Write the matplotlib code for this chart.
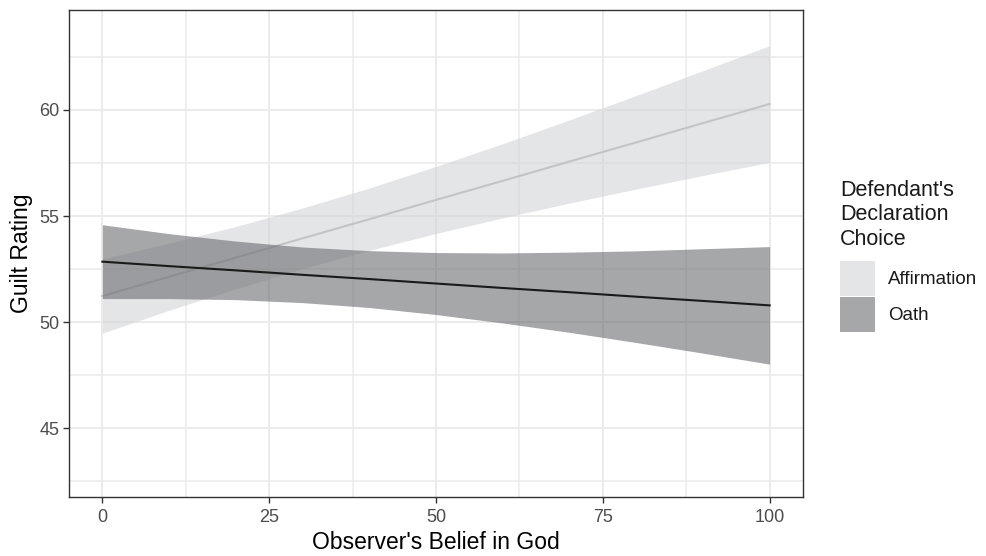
import matplotlib
matplotlib.use("Agg")
import matplotlib.pyplot as plt
from matplotlib.patches import Rectangle

# ---- data ----
belief = [0, 10, 20, 30, 40, 50, 60, 70, 80, 90, 100]

affirmation_fit = [51.23, 52.14, 53.04, 53.95, 54.85, 55.76, 56.66, 57.57, 58.47, 59.38, 60.28]
affirmation_lo = [49.48, 50.56, 51.57, 52.52, 53.38, 54.18, 54.91, 55.61, 56.27, 56.91, 57.53]
affirmation_hi = [52.98, 53.72, 54.51, 55.38, 56.32, 57.34, 58.41, 59.53, 60.68, 61.85, 63.03]

oath_fit = [52.85, 52.64, 52.44, 52.23, 52.03, 51.82, 51.61, 51.41, 51.20, 51.00, 50.79]
oath_lo = [51.11, 51.11, 51.06, 50.92, 50.69, 50.36, 49.96, 49.52, 49.04, 48.54, 48.02]
oath_hi = [54.59, 54.17, 53.82, 53.54, 53.37, 53.28, 53.26, 53.30, 53.36, 53.46, 53.56]

groups = ["Affirmation", "Oath"]
legend_title = ["Defendant's", "Declaration", "Choice"]
x_ticks = [0, 25, 50, 75, 100]
x_minor = [12.5, 37.5, 62.5, 87.5]
y_ticks = [45, 50, 55, 60]
y_minor = [42.5, 47.5, 52.5, 57.5, 62.5]

# ---- styling ----
plt.rcParams['font.family'] = ['Liberation Sans', 'DejaVu Sans']
W, H = 986, 556
fig = plt.figure(figsize=(W / 100, H / 100), dpi=100)
L, R, T, B = 69, 803, 10, 497
ax = fig.add_axes([L / W, 1 - B / H, (R - L) / W, (B - T) / H])

fill_cols = {"Affirmation": "#d3d4d7", "Oath": "#6b6c70"}
line_cols = {"Affirmation": "#c4c4c6", "Oath": "#1a1a1a"}
alpha = 0.6

ax.set_xlim(-5, 105)
ax.set_ylim(41.76, 64.71)

for v in x_ticks + x_minor:
    ax.axvline(v, color="#ebebeb", lw=1.4 if v in x_ticks else 1.1, zorder=0)
for v in y_ticks + y_minor:
    ax.axhline(v, color="#ebebeb", lw=1.4 if v in y_ticks else 1.1, zorder=0)

ax.fill_between(belief, affirmation_lo, affirmation_hi, color=fill_cols["Affirmation"],
                alpha=alpha, lw=0, zorder=1)
ax.plot(belief, affirmation_fit, color=line_cols["Affirmation"], lw=1.5, zorder=2)
ax.fill_between(belief, oath_lo, oath_hi, color=fill_cols["Oath"],
                alpha=alpha, lw=0, zorder=3)
ax.plot(belief, oath_fit, color=line_cols["Oath"], lw=1.5, zorder=4)

ax.set_xticks(x_ticks)
ax.set_xticklabels([str(t) for t in x_ticks])
ax.set_yticks(y_ticks)
ax.set_yticklabels([str(t) for t in y_ticks])
ax.tick_params(axis="both", length=4, width=1, color="#333333",
               labelcolor="#4d4d4d", labelsize=13, pad=3)
ax.tick_params(axis="x", pad=4.5)
for s in ax.spines.values():
    s.set_color("#333333")
    s.set_linewidth(1.0)

ax.set_xlabel("Observer's Belief in God", fontsize=16.5, color="black", labelpad=3.5)
ax.set_ylabel("Guilt Rating", fontsize=16.5, color="black", labelpad=4)

# ---- legend (drawn manually to match placement) ----
def fx(px):
    return px / W

def fy(py):
    return 1 - py / H

for txt, base in zip(legend_title, [196, 220.5, 245]):
    fig.text(fx(840), fy(base), txt, fontsize=15.5, va="baseline", ha="left", color="#1a1a1a")

key_tops = [261, 297]
label_base = [283.5, 320]
for g, top, lb in zip(groups, key_tops, label_base):
    fig.add_artist(Rectangle((fx(840), fy(top + 35)), 35 / W, 35 / H,
                             transform=fig.transFigure, facecolor="white", edgecolor="none"))
    fig.add_artist(Rectangle((fx(840), fy(top + 35)), 35 / W, 35 / H,
                             transform=fig.transFigure, facecolor=fill_cols[g],
                             alpha=alpha, edgecolor="none"))
    fig.text(fx(888), fy(lb), g, fontsize=13.5, va="baseline", ha="left", color="#1a1a1a")

fig.savefig("out.png", dpi=100)
